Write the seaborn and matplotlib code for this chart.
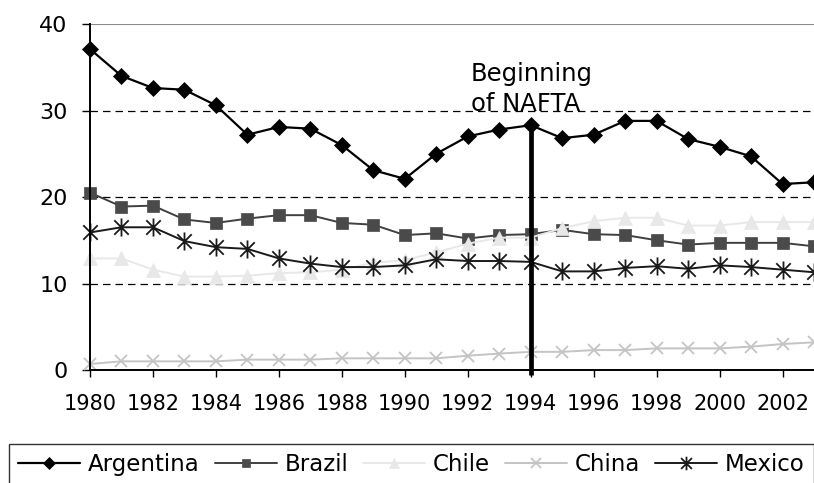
import matplotlib
matplotlib.use("Agg")
import matplotlib.pyplot as plt
import seaborn as sns
import pandas as pd
from matplotlib.path import Path

# Data
years = list(range(1980, 2004))
argentina = [37.1, 34.0, 32.6, 32.4, 30.6, 27.2, 28.1, 27.9, 26.0, 23.1, 22.1, 25.0,
             27.0, 27.8, 28.3, 26.8, 27.2, 28.8, 28.8, 26.7, 25.8, 24.7, 21.5, 21.7]
brazil = [20.5, 18.9, 19.0, 17.4, 17.0, 17.5, 17.9, 17.9, 17.0, 16.8, 15.6, 15.8,
          15.2, 15.6, 15.7, 16.2, 15.7, 15.6, 15.0, 14.5, 14.7, 14.7, 14.7, 14.3]
chile = [12.9, 12.9, 11.6, 10.8, 10.8, 10.9, 11.2, 11.3, 11.6, 12.4, 12.7, 13.6,
         14.6, 15.3, 15.3, 16.4, 17.2, 17.6, 17.6, 16.7, 16.7, 17.1, 17.1, 17.1]
china = [0.7, 1.0, 1.0, 1.0, 1.0, 1.2, 1.2, 1.2, 1.35, 1.35, 1.35, 1.35,
         1.65, 1.9, 2.1, 2.1, 2.3, 2.3, 2.5, 2.5, 2.5, 2.7, 3.0, 3.2]
mexico = [15.9, 16.5, 16.5, 14.9, 14.2, 14.0, 12.9, 12.3, 11.9, 11.9, 12.1, 12.8,
          12.6, 12.6, 12.5, 11.4, 11.4, 11.8, 12.0, 11.7, 12.1, 11.9, 11.6, 11.3]
nafta_year = 1994
y_ticks = [0, 10, 20, 30, 40]
x_ticks = list(range(1980, 2003, 2))

# asterisk-like marker: an x plus a vertical bar
star = Path([(-1, -1), (1, 1), (-1, 1), (1, -1), (0, -1.25), (0, 1.25)],
            [Path.MOVETO, Path.LINETO, Path.MOVETO, Path.LINETO, Path.MOVETO, Path.LINETO])

styles = {
    "Argentina": dict(color="#000000", marker="D", ms=8, lw=1.6, mec="#000000", mfc="#000000", mew=0.5),
    "Brazil": dict(color="#404040", marker="s", ms=8, lw=1.4, mec="#4a4a4a", mfc="#4a4a4a", mew=0.5),
    "Chile": dict(color="#e8e8e8", marker="^", ms=10, lw=1.4, mec="#e8e8e8", mfc="#e8e8e8", mew=0.5),
    "China": dict(color="#c4c4c4", marker="x", ms=9, lw=1.4, mec="#c4c4c4", mfc="#c4c4c4", mew=1.3),
    "Mexico": dict(color="#1a1a1a", marker=star, ms=13, lw=1.4, mec="#1a1a1a", mfc="none", mew=1.3),
}
series = {"Argentina": argentina, "Brazil": brazil, "Chile": chile, "China": china, "Mexico": mexico}

sns.set_style("white")
plt.rcParams["font.family"] = ["DejaVu Sans"]
plt.rcParams["text.color"] = "black"
plt.rcParams["xtick.color"] = "black"
plt.rcParams["ytick.color"] = "black"

fig = plt.figure(figsize=(8.14, 4.83), dpi=100)
ax = fig.add_axes([90 / 814, 1 - 370 / 483, 724 / 814, 346 / 483])

df = pd.DataFrame({"Year": years})
handles = []
for name, vals in series.items():
    st = styles[name]
    df[name] = vals
    sns.lineplot(data=df, x="Year", y=name, ax=ax, color=st["color"], lw=st["lw"],
                 marker=st["marker"], markersize=st["ms"], markeredgecolor=st["mec"],
                 markerfacecolor=st["mfc"], markeredgewidth=st["mew"], clip_on=False)
    handles.append(ax.lines[-1])

# NAFTA marker line
idx = years.index(nafta_year)
ax.vlines(nafta_year, -0.6, argentina[idx], color="black", lw=3.4, clip_on=False, zorder=5)
ax.text(1992.1, 29.4, "Beginning\nof NAFTA", fontsize=17.5, va="bottom", ha="left",
        linespacing=1.3, zorder=1, color="black")

ax.set_xlim(1980, 2003)
ax.set_ylim(0, 40)
ax.set_yticks(y_ticks)
ax.set_xticks(x_ticks)
ax.set_xticklabels([str(x) for x in x_ticks])
ax.set_xlabel("")
ax.set_ylabel("")
ax.tick_params(axis="both", direction="out", length=6, width=1, color="black",
               labelsize=15, labelcolor="black")
ax.tick_params(axis="x", pad=12, length=5, bottom=True)
ax.tick_params(axis="y", pad=10, left=True, labelsize=16)

ax.grid(axis="y", linestyle=(0, (6, 4)), color="black", lw=0.9)
ax.grid(axis="x", visible=False)
gl = ax.yaxis.get_gridlines()
gl[-1].set_linestyle("-")
gl[-1].set_color("#8c8c8c")
gl[-1].set_linewidth(1.5)

for side in ["left", "bottom"]:
    ax.spines[side].set_color("black")
    ax.spines[side].set_linewidth(1.4)
ax.spines["right"].set_visible(False)
ax.spines["top"].set_visible(False)

leg = fig.legend(handles, list(series.keys()), loc="upper left",
                 bbox_to_anchor=(9 / 814, 1 - 444 / 483), ncol=5, fontsize=16.5,
                 frameon=True, fancybox=False, edgecolor="black", handlelength=2.7,
                 handletextpad=0.35, columnspacing=0.65, borderaxespad=0, markerscale=0.75)
leg.get_frame().set_linewidth(1.0)
for t in leg.get_texts():
    t.set_color("black")

fig.savefig("out.png", dpi=100)
